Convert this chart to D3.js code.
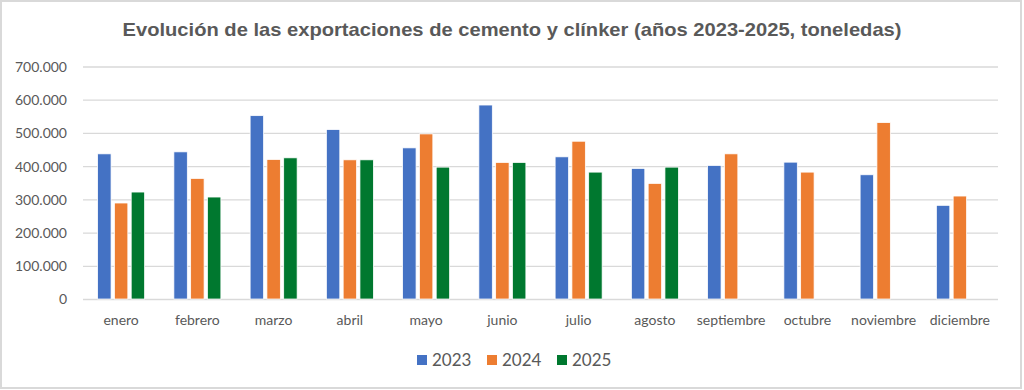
<!DOCTYPE html>
<html>
<head>
<meta charset="utf-8">
<script src="https://cdn.jsdelivr.net/npm/d3@7"></script>
<style>
  body { margin: 0; background: #fff; }
  svg { display: block; }
  .tick-label { font-family: Lato, "Open Sans", sans-serif; font-size: 14px; fill: #595959; }
  .legend-text { font-family: Lato, "Open Sans", sans-serif; font-size: 17px; fill: #595959; }
  .title { font-family: "Liberation Sans Narrow", "Liberation Sans", sans-serif; font-weight: bold; font-size: 19px; fill: #595959; }
</style>
</head>
<body>
<div id="chart"></div>
<script>
// months, series and values (toneladas)
const months = ['enero', 'febrero', 'marzo', 'abril', 'mayo', 'junio', 'julio', 'agosto', 'septiembre', 'octubre', 'noviembre', 'diciembre'];
const years = ['2023', '2024', '2025'];
const values2023 = [437000, 443000, 552000, 510000, 455000, 584000, 428000, 393000, 402000, 412000, 374000, 282000];
const values2024 = [289000, 363000, 420000, 419000, 497000, 411000, 475000, 348000, 437000, 382000, 531000, 310000];
const values2025 = [322000, 307000, 425000, 419000, 397000, 411000, 382000, 397000, null, null, null, null];
const yTicks = [0, 100000, 200000, 300000, 400000, 500000, 600000, 700000];
const colors = ['#4472C4', '#ED7D31', '#00782F'];

class BarChart {
  constructor() {
    this.config = {
      width: 1024,
      height: 390,
      plotLeft: 83,
      plotRight: 998,
      plotTop: 66.5,
      plotBottom: 299,
      groupWidth: 47,
    };
    this.initVis();
  }

  initVis() {
    const vis = this;
    const c = vis.config;

    vis.svg = d3.select('#chart').append('svg')
      .attr('width', c.width)
      .attr('height', c.height);

    // chart frame
    vis.svg.append('rect')
      .attr('x', 1).attr('y', 1)
      .attr('width', 1020).attr('height', 387)
      .attr('fill', '#fff')
      .attr('stroke', '#d9d9d9')
      .attr('stroke-width', 2);

    vis.x0 = d3.scaleBand().domain(months).range([c.plotLeft, c.plotRight]);
    vis.x1 = d3.scaleBand().domain(years).range([0, c.groupWidth]).paddingInner(0.2);
    vis.y = d3.scaleLinear().domain([0, 700000]).range([c.plotBottom, c.plotTop]);

    const locale = d3.formatLocale({ decimal: ',', thousands: '.', grouping: [3], currency: ['', '€'] });
    vis.fmt = locale.format(',');

    vis.data = months.map((m, i) => ({
      month: m,
      values: [values2023[i], values2024[i], values2025[i]].map((v, j) => ({ key: years[j], value: v })),
    }));

    vis.renderVis();
    vis.renderLegend();
  }

  renderVis() {
    const vis = this;
    const c = vis.config;

    // gridlines + y labels
    const yAxis = d3.axisLeft(vis.y)
      .tickValues(yTicks)
      .tickSize(-(c.plotRight - c.plotLeft))
      .tickPadding(16)
      .tickFormat(vis.fmt);

    const yg = vis.svg.append('g')
      .attr('transform', `translate(${c.plotLeft},0)`)
      .call(yAxis);
    yg.select('.domain').remove();
    yg.selectAll('line').attr('stroke', '#d9d9d9').attr('stroke-width', 1.3);
    yg.selectAll('text').attr('class', 'tick-label').attr('dy', '0.35em');

    // x labels
    const xAxis = d3.axisBottom(vis.x0).tickSize(0).tickPadding(16);
    const xg = vis.svg.append('g')
      .attr('transform', `translate(0,${c.plotBottom})`)
      .call(xAxis);
    xg.select('.domain').remove();
    xg.selectAll('text').attr('class', 'tick-label');

    // bars
    const offset = (vis.x0.bandwidth() - c.groupWidth) / 2;
    const groups = vis.svg.append('g').selectAll('g')
      .data(vis.data)
      .join('g')
      .attr('transform', (d) => `translate(${vis.x0(d.month) + offset},0)`);

    groups.selectAll('rect')
      .data((d) => d.values.filter((v) => v.value != null))
      .join('rect')
      .attr('x', (d) => vis.x1(d.key))
      .attr('y', (d) => vis.y(d.value))
      .attr('width', vis.x1.bandwidth())
      .attr('height', (d) => vis.y(0) - vis.y(d.value))
      .attr('fill', (d) => colors[years.indexOf(d.key)])
      .attr('stroke', '#fff')
      .attr('stroke-width', 0.75);

    // title
    vis.svg.append('text')
      .attr('class', 'title')
      .attr('x', 512)
      .attr('y', 36)
      .attr('text-anchor', 'middle')
      .attr('textLength', 779)
      .attr('lengthAdjust', 'spacingAndGlyphs')
      .text('Evolución de las exportaciones de cemento y clínker (años 2023-2025, toneledas)');
  }

  renderLegend() {
    const vis = this;
    const xs = [417, 487, 557];

    const items = vis.svg.append('g').selectAll('g')
      .data(years)
      .join('g')
      .attr('transform', (d, i) => `translate(${xs[i]},355)`);

    items.append('rect')
      .attr('width', 10).attr('height', 10)
      .attr('fill', (d, i) => colors[i]);

    items.append('text')
      .attr('class', 'legend-text')
      .attr('x', 15)
      .attr('y', 11)
      .text((d) => d);
  }
}

new BarChart();
</script>
</body>
</html>
